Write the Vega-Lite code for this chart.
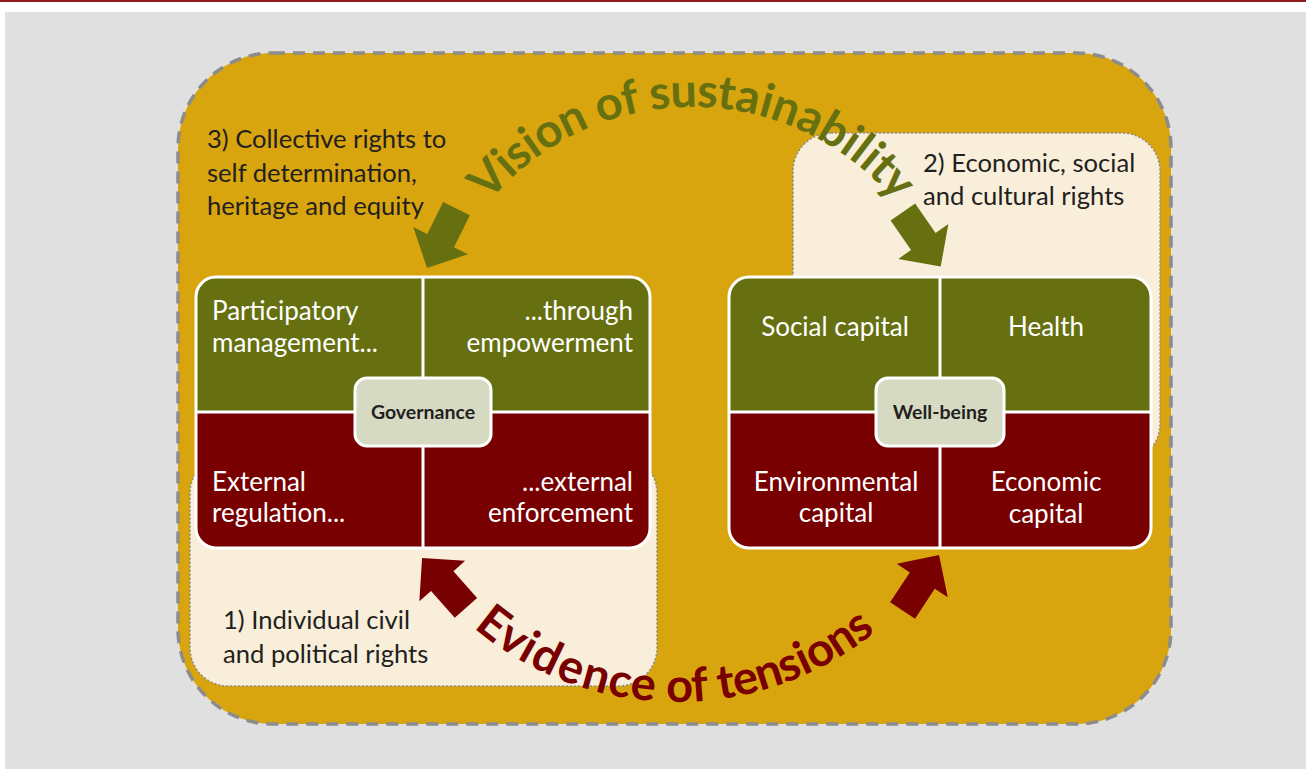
{
  "$schema": "https://vega.github.io/schema/vega-lite/v6.json",
  "width": 1306,
  "height": 769,
  "autosize": {"type": "fit", "contains": "padding"},
  "padding": 0,
  "background": "#ffffff",
  "config": {"view": {"stroke": null}, "axis": {"disable": true}},
  "datasets": {
    "shapes": [
      {"part": "topline", "x": 0, "x2": 1306, "y": 0, "y2": 2},
      {"part": "page", "x": 5, "x2": 1306, "y": 12, "y2": 769},
      {"part": "frame", "x": 178, "x2": 1171, "y": 53, "y2": 724},
      {"part": "cream", "x": 793, "x2": 1160, "y": 133, "y2": 462},
      {"part": "cream", "x": 190, "x2": 657, "y": 455, "y2": 686},
      {"part": "box", "x": 196, "x2": 650, "y": 277, "y2": 548},
      {"part": "box", "x": 729, "x2": 1151, "y": 277, "y2": 548},
      {"part": "top", "x": 196, "x2": 650, "y": 277, "y2": 412},
      {"part": "top", "x": 729, "x2": 1151, "y": 277, "y2": 412},
      {"part": "hub", "x": 355, "x2": 491, "y": 378, "y2": 446},
      {"part": "hub", "x": 876, "x2": 1004, "y": 378, "y2": 446}
    ],
    "dividers": [
      {"x": 423, "x2": 423, "y": 277, "y2": 548},
      {"x": 196, "x2": 650, "y": 412, "y2": 412},
      {"x": 940, "x2": 940, "y": 277, "y2": 548},
      {"x": 729, "x2": 1151, "y": 412, "y2": 412}
    ],
    "labels": [
      {"g": "dark", "text": "3) Collective rights to", "x": 207, "y": 148},
      {"g": "dark", "text": "self determination,", "x": 207, "y": 182},
      {"g": "dark", "text": "heritage and equity", "x": 207, "y": 215},
      {"g": "dark", "text": "2) Economic, social", "x": 923, "y": 172},
      {"g": "dark", "text": "and cultural rights", "x": 923, "y": 205},
      {"g": "dark", "text": "1) Individual civil", "x": 223, "y": 629},
      {"g": "dark", "text": "and political rights", "x": 223, "y": 663},
      {"g": "wl", "text": "Participatory", "x": 212, "y": 320},
      {"g": "wl", "text": "management...", "x": 212, "y": 352},
      {"g": "wl", "text": "External", "x": 212, "y": 491},
      {"g": "wl", "text": "regulation...", "x": 212, "y": 522},
      {"g": "wr", "text": "...through", "x": 633, "y": 320},
      {"g": "wr", "text": "empowerment", "x": 633, "y": 352},
      {"g": "wr", "text": "...external", "x": 633, "y": 491},
      {"g": "wr", "text": "enforcement", "x": 633, "y": 522},
      {"g": "wc", "text": "Social capital", "x": 835, "y": 336},
      {"g": "wc", "text": "Health", "x": 1046, "y": 336},
      {"g": "wc", "text": "Environmental", "x": 836, "y": 491},
      {"g": "wc", "text": "capital", "x": 836, "y": 522},
      {"g": "wc", "text": "Economic", "x": 1046, "y": 491},
      {"g": "wc", "text": "capital", "x": 1046, "y": 523},
      {"g": "hub", "text": "Governance", "x": 423, "y": 413},
      {"g": "hub", "text": "Well-being", "x": 940, "y": 413}
    ],
    "vision": [
      {"t": "V", "x": 489.6, "y": 179.9, "a": -46.5},
      {"t": "i", "x": 505.2, "y": 164.7, "a": -42.0},
      {"t": "s", "x": 517.8, "y": 154.1, "a": -38.6},
      {"t": "i", "x": 531.0, "y": 144.1, "a": -35.2},
      {"t": "o", "x": 548.0, "y": 133.1, "a": -31.1},
      {"t": "n", "x": 572.3, "y": 120.0, "a": -25.4},
      {"t": "o", "x": 608.8, "y": 105.7, "a": -17.4},
      {"t": "f", "x": 630.0, "y": 100.0, "a": -12.8},
      {"t": "s", "x": 659.7, "y": 94.9, "a": -6.7},
      {"t": "u", "x": 683.6, "y": 93.1, "a": -1.7},
      {"t": "s", "x": 707.6, "y": 93.4, "a": 3.2},
      {"t": "t", "x": 726.7, "y": 95.2, "a": 7.1},
      {"t": "a", "x": 748.1, "y": 98.7, "a": 11.6},
      {"t": "i", "x": 766.7, "y": 103.2, "a": 15.5},
      {"t": "n", "x": 785.9, "y": 109.3, "a": 19.7},
      {"t": "a", "x": 810.4, "y": 119.4, "a": 25.1},
      {"t": "b", "x": 833.9, "y": 131.8, "a": 30.6},
      {"t": "i", "x": 850.9, "y": 142.7, "a": 34.7},
      {"t": "l", "x": 861.2, "y": 150.2, "a": 37.3},
      {"t": "i", "x": 871.2, "y": 158.1, "a": 40.0},
      {"t": "t", "x": 882.6, "y": 168.3, "a": 43.1},
      {"t": "y", "x": 897.4, "y": 183.1, "a": 47.4}
    ],
    "evidence": [
      {"t": "E", "x": 492.6, "y": 625.0, "a": 37.7},
      {"t": "v", "x": 512.7, "y": 639.3, "a": 33.0},
      {"t": "i", "x": 528.5, "y": 648.9, "a": 29.5},
      {"t": "d", "x": 546.4, "y": 658.2, "a": 25.7},
      {"t": "e", "x": 570.9, "y": 668.7, "a": 20.6},
      {"t": "n", "x": 596.2, "y": 677.0, "a": 15.6},
      {"t": "c", "x": 620.1, "y": 682.6, "a": 10.9},
      {"t": "e", "x": 643.4, "y": 686.1, "a": 6.4},
      {"t": "o", "x": 679.6, "y": 688.0, "a": -0.5},
      {"t": "f", "x": 699.7, "y": 687.2, "a": -4.3},
      {"t": "t", "x": 725.8, "y": 684.0, "a": -9.3},
      {"t": "e", "x": 745.3, "y": 680.2, "a": -13.1},
      {"t": "n", "x": 768.7, "y": 673.7, "a": -17.7},
      {"t": "s", "x": 789.2, "y": 666.3, "a": -21.9},
      {"t": "i", "x": 803.2, "y": 660.3, "a": -24.8},
      {"t": "o", "x": 819.7, "y": 652.1, "a": -28.3},
      {"t": "n", "x": 841.3, "y": 639.3, "a": -33.0},
      {"t": "s", "x": 859.3, "y": 626.6, "a": -37.2}
    ],
    "arrows": [
      {"kind": "vision", "x": 441.8, "y": 238.3, "a": 206.4},
      {"kind": "vision", "x": 921.8, "y": 239.3, "a": 145.2},
      {"kind": "tension", "x": 444.0, "y": 583.0, "a": -41.4},
      {"kind": "tension", "x": 920.8, "y": 582.8, "a": 33.3}
    ]
  },
  "encoding": {
    "x": {"field": "x", "type": "quantitative", "scale": {"domain": [0, 1306], "nice": false, "zero": false}, "axis": null},
    "y": {"field": "y", "type": "quantitative", "scale": {"domain": [0, 769], "nice": false, "zero": false, "reverse": true}, "axis": null}
  },
  "layer": [
    {
      "data": {"name": "shapes"},
      "transform": [{"filter": "datum.part == 'topline'"}],
      "mark": {"type": "rect", "fill": "#8e1b1b"},
      "encoding": {"x2": {"field": "x2"}, "y2": {"field": "y2"}}
    },
    {
      "data": {"name": "shapes"},
      "transform": [{"filter": "datum.part == 'page'"}],
      "mark": {"type": "rect", "fill": "#e0e0e0"},
      "encoding": {"x2": {"field": "x2"}, "y2": {"field": "y2"}}
    },
    {
      "data": {"name": "shapes"},
      "transform": [{"filter": "datum.part == 'frame'"}],
      "mark": {"type": "rect", "fill": "#d9a50e", "stroke": "#8c8c8c", "strokeWidth": 3.5, "strokeDash": [12, 8], "cornerRadius": 95},
      "encoding": {"x2": {"field": "x2"}, "y2": {"field": "y2"}}
    },
    {
      "data": {"name": "shapes"},
      "transform": [{"filter": "datum.part == 'cream'"}],
      "mark": {"type": "rect", "fill": "#f8eed9", "stroke": "#8c8c8c", "strokeWidth": 1.6, "strokeDash": [2, 2], "cornerRadius": 38},
      "encoding": {"x2": {"field": "x2"}, "y2": {"field": "y2"}}
    },
    {
      "data": {"name": "shapes"},
      "transform": [{"filter": "datum.part == 'box'"}],
      "mark": {"type": "rect", "fill": "#780000", "cornerRadius": 20},
      "encoding": {"x2": {"field": "x2"}, "y2": {"field": "y2"}}
    },
    {
      "data": {"name": "shapes"},
      "transform": [{"filter": "datum.part == 'top'"}],
      "mark": {"type": "rect", "fill": "#667010", "cornerRadiusTopLeft": 20, "cornerRadiusTopRight": 20},
      "encoding": {"x2": {"field": "x2"}, "y2": {"field": "y2"}}
    },
    {
      "data": {"name": "shapes"},
      "transform": [{"filter": "datum.part == 'box'"}],
      "mark": {"type": "rect", "fill": "transparent", "stroke": "#ffffff", "strokeWidth": 3, "cornerRadius": 20},
      "encoding": {"x2": {"field": "x2"}, "y2": {"field": "y2"}}
    },
    {
      "data": {"name": "dividers"},
      "mark": {"type": "rule", "color": "#ffffff", "strokeWidth": 3},
      "encoding": {"x2": {"field": "x2"}, "y2": {"field": "y2"}}
    },
    {
      "data": {"name": "shapes"},
      "transform": [{"filter": "datum.part == 'hub'"}],
      "mark": {"type": "rect", "fill": "#d7dac3", "stroke": "#ffffff", "strokeWidth": 3, "cornerRadius": 12},
      "encoding": {"x2": {"field": "x2"}, "y2": {"field": "y2"}}
    },
    {
      "data": {"name": "labels"},
      "transform": [{"filter": "datum.g == 'dark'"}],
      "mark": {"type": "text", "font": "Lato", "fontSize": 25.6, "color": "#231f20", "align": "left", "baseline": "alphabetic"},
      "encoding": {"text": {"field": "text"}}
    },
    {
      "data": {"name": "labels"},
      "transform": [{"filter": "datum.g == 'wl'"}],
      "mark": {"type": "text", "font": "Lato", "fontSize": 26, "color": "#ffffff", "align": "left", "baseline": "alphabetic"},
      "encoding": {"text": {"field": "text"}}
    },
    {
      "data": {"name": "labels"},
      "transform": [{"filter": "datum.g == 'wr'"}],
      "mark": {"type": "text", "font": "Lato", "fontSize": 26, "color": "#ffffff", "align": "right", "baseline": "alphabetic"},
      "encoding": {"text": {"field": "text"}}
    },
    {
      "data": {"name": "labels"},
      "transform": [{"filter": "datum.g == 'wc'"}],
      "mark": {"type": "text", "font": "Lato", "fontSize": 26, "color": "#ffffff", "align": "center", "baseline": "alphabetic"},
      "encoding": {"text": {"field": "text"}}
    },
    {
      "data": {"name": "labels"},
      "transform": [{"filter": "datum.g == 'hub'"}],
      "mark": {"type": "text", "font": "Lato", "fontSize": 19.5, "fontWeight": "bold", "color": "#231f20", "align": "center", "baseline": "middle"},
      "encoding": {"text": {"field": "text"}}
    },
    {
      "data": {"name": "arrows"},
      "transform": [{"filter": "datum.kind == 'vision'"}],
      "mark": {"type": "point", "shape": "M0,-1L0.92,-0.08L0.45,-0.08L0.45,1L-0.45,1L-0.45,-0.08L-0.92,-0.08Z", "filled": true, "size": 4400, "opacity": 1, "fill": "#667010", "strokeWidth": 0},
      "encoding": {"angle": {"field": "a", "type": "quantitative", "scale": null}}
    },
    {
      "data": {"name": "arrows"},
      "transform": [{"filter": "datum.kind == 'tension'"}],
      "mark": {"type": "point", "shape": "M0,-1L0.92,-0.08L0.45,-0.08L0.45,1L-0.45,1L-0.45,-0.08L-0.92,-0.08Z", "filled": true, "size": 4400, "opacity": 1, "fill": "#780000", "strokeWidth": 0},
      "encoding": {"angle": {"field": "a", "type": "quantitative", "scale": null}}
    },
    {
      "data": {"name": "vision"},
      "mark": {"type": "text", "font": "Lato", "fontSize": 47, "fontWeight": "bold", "color": "#667010", "align": "center", "baseline": "middle"},
      "encoding": {"text": {"field": "t"}, "angle": {"field": "a", "type": "quantitative", "scale": null}}
    },
    {
      "data": {"name": "evidence"},
      "mark": {"type": "text", "font": "Lato", "fontSize": 47, "fontWeight": "bold", "color": "#780000", "align": "center", "baseline": "middle"},
      "encoding": {"text": {"field": "t"}, "angle": {"field": "a", "type": "quantitative", "scale": null}}
    }
  ]
}
